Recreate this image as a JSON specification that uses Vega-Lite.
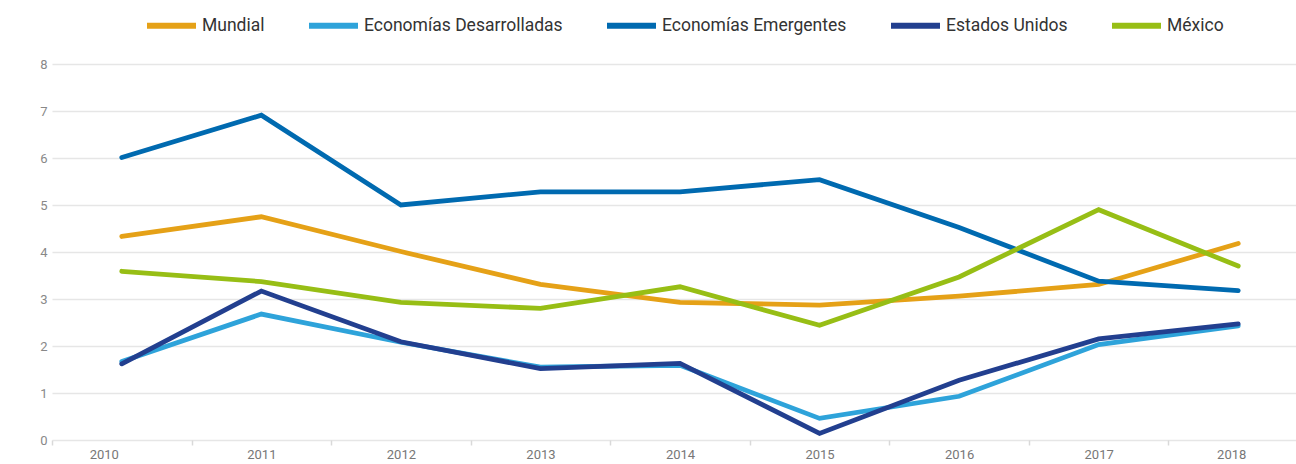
{
  "$schema": "https://vega.github.io/schema/vega-lite/v6.json",
  "width": 1244,
  "height": 376,
  "autosize": {"type": "none"},
  "padding": {"left": 52, "top": 64, "right": 0, "bottom": 24},
  "background": "white",
  "config": {"view": {"stroke": null}, "font": "Roboto"},
  "data": {
    "values": [
      {"year": "2010", "serie": "Mundial", "value": 4.33},
      {"year": "2011", "serie": "Mundial", "value": 4.75},
      {"year": "2012", "serie": "Mundial", "value": 4.01},
      {"year": "2013", "serie": "Mundial", "value": 3.31},
      {"year": "2014", "serie": "Mundial", "value": 2.93},
      {"year": "2015", "serie": "Mundial", "value": 2.87},
      {"year": "2016", "serie": "Mundial", "value": 3.06},
      {"year": "2017", "serie": "Mundial", "value": 3.31},
      {"year": "2018", "serie": "Mundial", "value": 4.18},
      {"year": "2010", "serie": "Economías Desarrolladas", "value": 1.67},
      {"year": "2011", "serie": "Economías Desarrolladas", "value": 2.68},
      {"year": "2012", "serie": "Economías Desarrolladas", "value": 2.08},
      {"year": "2013", "serie": "Economías Desarrolladas", "value": 1.55},
      {"year": "2014", "serie": "Economías Desarrolladas", "value": 1.59},
      {"year": "2015", "serie": "Economías Desarrolladas", "value": 0.46},
      {"year": "2016", "serie": "Economías Desarrolladas", "value": 0.93},
      {"year": "2017", "serie": "Economías Desarrolladas", "value": 2.03},
      {"year": "2018", "serie": "Economías Desarrolladas", "value": 2.43},
      {"year": "2010", "serie": "Economías Emergentes", "value": 6.01},
      {"year": "2011", "serie": "Economías Emergentes", "value": 6.91},
      {"year": "2012", "serie": "Economías Emergentes", "value": 5.0},
      {"year": "2013", "serie": "Economías Emergentes", "value": 5.28},
      {"year": "2014", "serie": "Economías Emergentes", "value": 5.28},
      {"year": "2015", "serie": "Economías Emergentes", "value": 5.54},
      {"year": "2016", "serie": "Economías Emergentes", "value": 4.52},
      {"year": "2017", "serie": "Economías Emergentes", "value": 3.38},
      {"year": "2018", "serie": "Economías Emergentes", "value": 3.18},
      {"year": "2010", "serie": "Estados Unidos", "value": 1.62},
      {"year": "2011", "serie": "Estados Unidos", "value": 3.17},
      {"year": "2012", "serie": "Estados Unidos", "value": 2.09},
      {"year": "2013", "serie": "Estados Unidos", "value": 1.52},
      {"year": "2014", "serie": "Estados Unidos", "value": 1.63},
      {"year": "2015", "serie": "Estados Unidos", "value": 0.14},
      {"year": "2016", "serie": "Estados Unidos", "value": 1.27},
      {"year": "2017", "serie": "Estados Unidos", "value": 2.15},
      {"year": "2018", "serie": "Estados Unidos", "value": 2.47},
      {"year": "2010", "serie": "México", "value": 3.59},
      {"year": "2011", "serie": "México", "value": 3.37},
      {"year": "2012", "serie": "México", "value": 2.93},
      {"year": "2013", "serie": "México", "value": 2.8},
      {"year": "2014", "serie": "México", "value": 3.26},
      {"year": "2015", "serie": "México", "value": 2.44},
      {"year": "2016", "serie": "México", "value": 3.47},
      {"year": "2017", "serie": "México", "value": 4.9},
      {"year": "2018", "serie": "México", "value": 3.7}
    ]
  },
  "mark": {"type": "line", "strokeWidth": 4.8, "strokeCap": "round", "strokeJoin": "miter"},
  "encoding": {
    "x": {
      "field": "year",
      "type": "ordinal",
      "bandPosition": 0.5,
      "scale": {"type": "band", "range": [0, 1256], "paddingInner": 0, "paddingOuter": 0},
      "axis": {
        "title": null,
        "tickBand": "extent",
        "domain": false,
        "grid": false,
        "ticks": true,
        "tickSize": 5,
        "tickColor": "#d9d9d9",
        "tickWidth": 1.5,
        "labelColor": "#777777",
        "labelFontSize": 13,
        "labelPadding": 3,
        "labelAngle": 0,
        "labelOverlap": false,
        "labelOffset": {"condition": [{"test": "datum.label == '2010'", "value": -18}, {"test": "datum.label == '2018'", "value": -7}], "value": 0}
      }
    },
    "y": {
      "field": "value",
      "type": "quantitative",
      "scale": {"domain": [0, 8], "nice": false},
      "axis": {
        "title": null,
        "values": [0, 1, 2, 3, 4, 5, 6, 7, 8],
        "domain": false,
        "ticks": false,
        "tickSize": 0,
        "labelPadding": 5,
        "labelColor": "#888888",
        "labelFontSize": 13,
        "gridColor": "#e6e6e6",
        "gridWidth": 1.5
      }
    },
    "color": {
      "field": "serie",
      "type": "nominal",
      "scale": {
        "domain": ["Mundial", "Economías Desarrolladas", "Economías Emergentes", "Estados Unidos", "México"],
        "range": ["#E5A117", "#2EA3DA", "#006AB0", "#223F8F", "#97BE15"]
      },
      "legend": {
        "orient": "none",
        "legendX": 92,
        "legendY": -66,
        "direction": "horizontal",
        "title": null,
        "symbolType": "stroke",
        "symbolSize": 2401,
        "symbolStrokeWidth": 6,
        "labelFontSize": 17.5,
        "labelColor": "#333333",
        "labelOffset": 3,
        "labelLimit": 400,
        "columnPadding": 32
      }
    }
  }
}
